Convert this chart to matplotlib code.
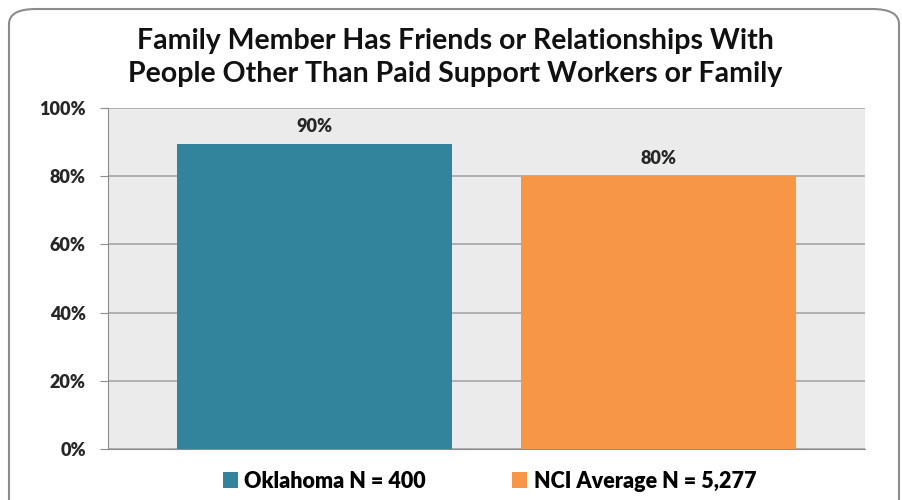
import matplotlib.pyplot as plt
from matplotlib.patches import FancyBboxPatch, Patch

# Data
series = ["Oklahoma N = 400", "NCI Average N = 5,277"]
values = [89.5, 80.2]
value_labels = ["90%", "80%"]
colors = ["#31849B", "#F79646"]
yticks = [0, 20, 40, 60, 80, 100]

plt.rcParams["font.family"] = ["Lato", "DejaVu Sans"]

fig = plt.figure(figsize=(9.03, 5.0), dpi=100)

# rounded chart border, bottom edge runs off the figure
border = FancyBboxPatch((9 / 903, -0.05), 890 / 903, 1 - 9 / 500 + 0.05,
                        boxstyle="round,pad=0,rounding_size=0.03",
                        transform=fig.transFigure, facecolor="none",
                        edgecolor="#8C8C8C", linewidth=1.5, zorder=-1)
fig.patches.append(border)

ax = fig.add_axes([108 / 903, (500 - 449) / 500, 757 / 903, 341 / 500])
ax.set_facecolor("#EBEBEB")

x = range(len(values))
bars = ax.bar(x, values, width=0.8, color=colors, zorder=3)
for xi, v, lab in zip(x, values, value_labels):
    ax.text(xi, v + 2.5, lab, ha="center", va="bottom", fontsize=13,
            fontweight="heavy", color="#262626")

ax.set_xlim(-0.6, 1.6)
ax.set_ylim(0, 100)
ax.set_yticks(yticks)
ax.set_yticklabels([f"{t}%" for t in yticks], fontsize=13, fontweight="heavy",
                   color="#262626")
ax.set_xticks([])
ax.yaxis.grid(True, color="#A6A6A6", linewidth=1.2, zorder=0)
ax.set_axisbelow(True)
ax.tick_params(axis="y", length=6, color="#8C8C8C", pad=10)
for s in ["top", "right"]:
    ax.spines[s].set_visible(False)
for s in ["left", "bottom"]:
    ax.spines[s].set_color("#8C8C8C")

fig.text(0.504, 0.885, "Family Member Has Friends or Relationships With\nPeople Other Than Paid Support Workers or Family",
         ha="center", va="center", fontsize=20.5, fontweight="bold",
         linespacing=1.3, color="#111111")

handles = [Patch(facecolor=c, edgecolor="none") for c in colors]
fig.legend(handles, series, loc="center", bbox_to_anchor=(0.542, 0.038), ncol=2,
           frameon=False, prop={"weight": "heavy", "size": 15.5}, handlelength=0.7,
           handleheight=0.7, handletextpad=0.3, columnspacing=4.0)

fig.savefig("out.png", dpi=100)
